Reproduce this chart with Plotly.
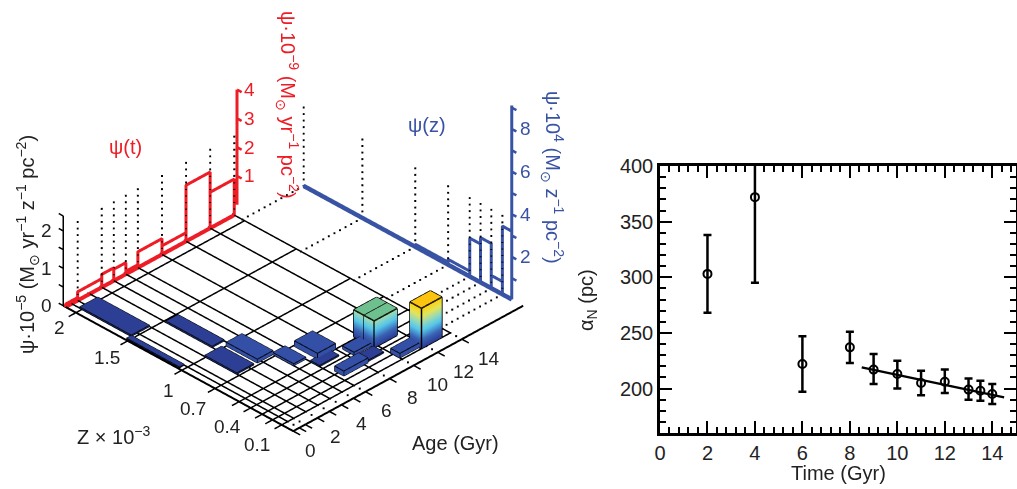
import numpy as np
import plotly.graph_objects as go

# ---------- right panel data ----------
time_gyr = [2, 4, 6, 8, 9, 10, 11, 12, 13, 13.5, 14]
alpha_n = [303, 372, 222, 237, 217, 213, 205, 206, 199, 198, 195]
alpha_hi = [338, 410, 247, 251, 231, 225, 216, 217, 209, 207, 204]
alpha_lo = [268, 295, 197, 223, 204, 200, 194, 196, 190, 189, 186]
fit_time = [8.5, 14.5]
fit_alpha = [219, 192]

# ---------- left panel data ----------
age_edges = [0, 0.5, 1, 2, 3, 4, 5, 6, 8, 10, 12, 14]
age_ticks = [0, 2, 4, 6, 8, 10, 12, 14]
z_edges = [0.05, 0.09, 0.135, 0.185, 0.235, 0.34, 0.485, 0.72, 0.945]
z_tick_pos = [0.135, 0.235, 0.34, 0.485, 0.72, 0.945]
z_tick_text = ["0.1", "0.4", "0.7", "1", "1.5", "2"]
psi_ticks = [0, 1, 2]
# bars: age range, Z position range, height
bar_age0 = [0.5, 0.1, 3.0, 2.0, 3.7, 5.0, 6.5, 6.0, 6.3, 8.3, 8.2, 10.0]
bar_age1 = [2.0, 0.5, 4.0, 3.4, 5.0, 6.0, 8.0, 7.6, 8.3, 10.0, 9.7, 12.0]
bar_z0 = [0.73, 0.50, 0.51, 0.35, 0.35, 0.26, 0.235, 0.20, 0.11, 0.17, 0.115, 0.06]
bar_z1 = [0.955, 0.73, 0.71, 0.49, 0.485, 0.35, 0.335, 0.24, 0.15, 0.22, 0.16, 0.10]
bar_h = [0.03, 0.02, 0.03, 0.03, 0.10, 0.05, 0.15, 0.03, 0.13, 0.08, 0.03, 0.12]
tall_age0 = [9.7, 9.7, 11.6]
tall_age1 = [11.6, 11.6, 13.3]
tall_z0 = [0.156, 0.20, 0.05]
tall_z1 = [0.20, 0.245, 0.10]
tall_h = [0.72, 0.72, 1.08]
tall_top = ["#6fc08f", "#6fc08f", "#fcc40f"]
# marginals
red_edges = [0, 1, 3, 4, 5, 6, 8, 10, 12, 14]
red_vals = [0.1, 0.3, 0.45, 0.4, 0.1, 0.55, 0.3, 1.95, 1.25]
blue_edges = [0.05, 0.091, 0.139, 0.186, 0.233, 0.327, 0.47, 0.70, 0.955]
blue_vals = [3.2, 0.6, 2.1, 1.8, 0.25, 0.12, 0.02, 0.02]
RED_SCALE = 0.77      # wall units per scene psi unit
BLUE_SCALE = 0.57
RED, BLUE = "#ee1c25", "#3953a4"
WALL_AGE, RED_Z, RED_AXIS_AGE, RED_AXIS_Z = 19.1, 0.99, 14.9, 1.025
POLE = 2.1

FONT = "Liberation Sans"
TXT = "#222"
fig = go.Figure()


def line3(x, y, z, color="black", width=2, dash=None):
    fig.add_trace(go.Scatter3d(x=x, y=y, z=z, mode="lines",
                               line=dict(color=color, width=width, dash=dash),
                               showlegend=False, hoverinfo="skip"))


def dots3(pairs, n):
    xs, ys, zs = [], [], []
    for a, b in pairs:
        a, b = np.array(a, float), np.array(b, float)
        for f in np.linspace(0, 1, n):
            p = a + (b - a) * f
            xs.append(p[0]); ys.append(p[1]); zs.append(p[2])
    fig.add_trace(go.Scatter3d(x=xs, y=ys, z=zs, mode="markers",
                               marker=dict(color="black", size=1, symbol="square", line=dict(width=0)),
                               showlegend=False, hoverinfo="skip"))


def segs(pairs):
    xs, ys, zs = [], [], []
    for a, b in pairs:
        xs += [a[0], b[0], None]
        ys += [a[1], b[1], None]
        zs += [a[2], b[2], None]
    return xs, ys, zs


# floor grid
pairs = [((a, z_edges[0], 0), (a, 1.0, 0)) for a in age_edges[1:]]
pairs += [((0, z, 0), (14, z, 0)) for z in z_edges]
line3(*segs(pairs), width=3)

# axis lines and ticks
line3([0, 0, 19.1], [1.0, 0, 0], [0, 0, 0], width=4)
line3(*segs([((a, 0, 0), (a, -0.03, 0)) for a in age_edges]), width=3)
line3(*segs([((0, z, 0), (-0.6, z, 0)) for z in z_edges]), width=3)
line3(*segs([((0, 1.0, v), (0, 1.02, v)) for v in [0, 0.5, 1, 1.5, 2, 2.4]]), width=3)
line3([0, 0], [1.0, 1.0], [0, 2.4], width=3)

# dotted guides
guide_pairs = [((a, RED_Z, 0), (a, RED_Z, POLE)) for a in red_edges[1:]]
guide_pairs += [((WALL_AGE, z, 0), (WALL_AGE, z, POLE)) for z in blue_edges[1:]]
dots3(guide_pairs, 13)
dots3([((14, z, 0), (WALL_AGE, z, 0)) for z in blue_edges[1:]], 12)
dots3([((a, 0.0, 0), (a, z_edges[0], 0)) for a in age_edges[1:]], 3)


def box(a0, a1, z0, z1, h, color, edge_w):
    x = [a0, a1, a1, a0, a0, a1, a1, a0]
    y = [z0, z0, z1, z1, z0, z0, z1, z1]
    zz = [0, 0, 0, 0, h, h, h, h]
    i = [0, 0, 4, 4, 0, 0, 1, 1, 2, 2, 3, 3]
    j = [1, 2, 5, 6, 1, 5, 2, 6, 3, 7, 0, 4]
    k = [2, 3, 6, 7, 5, 4, 6, 5, 7, 6, 4, 7]
    fig.add_trace(go.Mesh3d(x=x, y=y, z=zz, i=i, j=j, k=k, color=color,
                            flatshading=True, hoverinfo="skip", showscale=False,
                            lighting=dict(ambient=1, diffuse=0, specular=0, fresnel=0)))
    e = [(0, 1), (1, 2), (0, 3), (4, 5), (5, 6), (6, 7), (7, 4), (0, 4), (1, 5), (3, 7)]
    pts = list(zip(x, y, zz))
    line3(*segs([(pts[p], pts[q]) for p, q in e]), width=edge_w)


for n in range(len(bar_age0)):
    c = "#2c3f95" if bar_h[n] < 0.05 else "#3450a6"
    box(bar_age0[n], bar_age1[n], bar_z0[n], bar_z1[n], bar_h[n], c, 2)

SCALE = [[0, "#2a3c94"], [0.2, "#3a62b4"], [0.43, "#55c6ea"], [0.6, "#8fd8c0"],
         [0.8, "#e2e45c"], [1, "#fdd20a"]]
for n in range(len(tall_h)):
    a0, a1, z0, z1, h = tall_age0[n], tall_age1[n], tall_z0[n], tall_z1[n], tall_h[n]
    x = [a0, a1, a1, a0, a0, a1, a1, a0]
    y = [z0, z0, z1, z1, z0, z0, z1, z1]
    zz = [0, 0, 0, 0, h, h, h, h]
    i = [0, 0, 1, 1, 2, 2, 3, 3]
    j = [1, 5, 2, 6, 3, 7, 0, 4]
    k = [5, 4, 6, 5, 7, 6, 4, 7]
    fig.add_trace(go.Mesh3d(x=x, y=y, z=zz, i=i, j=j, k=k, intensity=zz, cmin=0, cmax=1.08,
                            colorscale=SCALE, showscale=False, hoverinfo="skip",
                            lighting=dict(ambient=1, diffuse=0, specular=0, fresnel=0)))
    fig.add_trace(go.Mesh3d(x=[a0, a1, a1, a0], y=[z0, z0, z1, z1], z=[h] * 4,
                            i=[0, 0], j=[1, 2], k=[2, 3], color=tall_top[n], hoverinfo="skip",
                            lighting=dict(ambient=1, diffuse=0, specular=0, fresnel=0)))
    e = [(0, 1), (1, 2), (2, 3), (3, 0), (4, 5), (5, 6), (6, 7), (7, 4), (0, 4), (1, 5), (3, 7), (2, 6)]
    pts = list(zip(x, y, zz))
    line3(*segs([(pts[p], pts[q]) for p, q in e]), width=3)

# red wall histogram
rx, rz = [0], [0]
for n, v in enumerate(red_vals):
    rx += [red_edges[n], red_edges[n + 1], red_edges[n + 1], red_edges[n + 1]]
    rz += [v * RED_SCALE, v * RED_SCALE, 0, 0]
line3(rx, [RED_Z] * len(rx), rz, color=RED, width=6)
line3([0, 14], [RED_Z, RED_Z], [0, 0], color=RED, width=8)
line3([RED_AXIS_AGE] * 2, [RED_AXIS_Z] * 2, [0, 4 * RED_SCALE], color=RED, width=6)
line3(*segs([((RED_AXIS_AGE, RED_AXIS_Z, v * RED_SCALE), (RED_AXIS_AGE, RED_AXIS_Z - 0.02, v * RED_SCALE))
             for v in [1, 2, 3, 4]]), color=RED, width=5)

# blue wall histogram
by, bz = [], []
for n, v in enumerate(blue_vals):
    by += [blue_edges[n], blue_edges[n], blue_edges[n + 1], blue_edges[n + 1]]
    bz += [0, v * BLUE_SCALE, v * BLUE_SCALE, 0]
line3([WALL_AGE] * len(by), by, bz, color=BLUE, width=6)
line3([WALL_AGE, WALL_AGE], [0.05, 0.955], [0, 0], color=BLUE, width=9)
line3([WALL_AGE, WALL_AGE], [0.05, 0.05], [0, 9.1 * BLUE_SCALE], color=BLUE, width=6)
line3(*segs([((WALL_AGE, 0.05, v * BLUE_SCALE), (WALL_AGE, 0.03, v * BLUE_SCALE)) for v in range(1, 10)]),
      color=BLUE, width=5)

# scene labels anchored on data
z_label_dx = [15, 8, -2, 7, -1, 4]
z_label_dy = [15, 10, 5, 5, 2, 0]
ann = []
for a in age_ticks:
    ann.append(dict(x=a, y=0, z=0, text=str(a), showarrow=False, xshift=17 + 0.7 * a, yshift=-19,
                    font=dict(family=FONT, size=19, color=TXT)))
for p, t, dx, dy in zip(z_tick_pos, z_tick_text, z_label_dx, z_label_dy):
    ann.append(dict(x=0, y=p, z=0, text=t, showarrow=False, xshift=-20 + dx, yshift=-15 - dy,
                    font=dict(family=FONT, size=19, color=TXT)))
for v in psi_ticks:
    ann.append(dict(x=0, y=1.0, z=v, text=str(v), showarrow=False, xshift=-17, yshift=0,
                    font=dict(family=FONT, size=19, color=TXT)))
for v in [1, 2, 3, 4]:
    ann.append(dict(x=RED_AXIS_AGE, y=RED_AXIS_Z, z=v * RED_SCALE, text=str(v), showarrow=False, xshift=12, yshift=0,
                    font=dict(family=FONT, size=19, color=RED)))
for v in [2, 4, 6, 8]:
    ann.append(dict(x=WALL_AGE, y=0.05, z=v * BLUE_SCALE, text=str(v), showarrow=False, xshift=14, yshift=0,
                    font=dict(family=FONT, size=19, color=BLUE)))

hide = dict(visible=False, showgrid=False, zeroline=False, showbackground=False, showspikes=False)
fig.update_layout(
    width=1017, height=489, margin=dict(l=0, r=0, t=0, b=0, autoexpand=False), showlegend=False,
    paper_bgcolor="white", plot_bgcolor="white", font=dict(family=FONT, size=19, color=TXT),
    scene=dict(
        domain=dict(x=[0, 590 / 1017], y=[0, 1]),
        xaxis=dict(range=[-1, 20], **hide), yaxis=dict(range=[-0.08, 1.06], **hide),
        zaxis=dict(range=[-2.24, 5.6], **hide),
        aspectmode="manual", aspectratio=dict(x=1.463, y=1.516, z=1.43),
        camera=dict(eye=dict(x=-1.0, y=-1.0, z=0.92), center=dict(x=0, y=0, z=0),
                    up=dict(x=0, y=0, z=1), projection=dict(type="orthographic")),
        annotations=ann, dragmode=False,
    ),
)

# right panel
fig.add_trace(go.Scatter(x=fit_time, y=fit_alpha, mode="lines", line=dict(color="black", width=2.5),
                         xaxis="x", yaxis="y", showlegend=False, hoverinfo="skip"))
fig.add_trace(go.Scatter(
    x=time_gyr, y=alpha_n, mode="markers", xaxis="x", yaxis="y", showlegend=False,
    marker=dict(symbol="circle-open", size=8, color="black", line=dict(width=2, color="black")),
    error_y=dict(type="data", symmetric=False,
                 array=[h - v for h, v in zip(alpha_hi, alpha_n)],
                 arrayminus=[v - l for l, v in zip(alpha_lo, alpha_n)],
                 color="black", thickness=2.5, width=4)))
ax = dict(showgrid=False, zeroline=False, showline=True, linecolor="black", linewidth=2.5, mirror="allticks",
          ticks="inside", ticklen=12, tickwidth=2, tickcolor="black", tickfont=dict(size=20, color=TXT))
fig.update_layout(
    xaxis=dict(domain=[660 / 1017, 1016 / 1017], range=[0, 15], tick0=0, dtick=2,
               minor=dict(ticks="inside", dtick=0.4, ticklen=6, tickwidth=2, tickcolor="black"),
               anchor="y", **ax),
    yaxis=dict(domain=[1 - 433 / 489, 1 - 166 / 489], range=[160, 400], tick0=200, dtick=50,
               minor=dict(ticks="inside", dtick=10, ticklen=6, tickwidth=2, tickcolor="black"),
               anchor="x", **ax),
)


def label(px, py, text, color=TXT, angle=0, size=20):
    fig.add_annotation(xref="paper", yref="paper", x=px / 1017, y=1 - py / 489, text=text, showarrow=False,
                       textangle=angle, font=dict(family=FONT, size=size, color=color),
                       xanchor="center", yanchor="middle")


label(125, 147, "ψ(t)", RED)
label(427, 125, "ψ(z)", BLUE)
label(287, 105, "ψ·10<sup>−9</sup> (M<sub>⊙</sub> yr<sup>−1</sup> pc<sup>−2</sup>)", RED, 90)
label(553, 177, "ψ·10<sup>4</sup> (M<sub>⊙</sub> z<sup>−1</sup> pc<sup>−2</sup>)", BLUE, 90)
label(27, 245, "ψ·10<sup>−5</sup> (M<sub>⊙</sub> yr<sup>−1</sup> z<sup>−1</sup> pc<sup>−2</sup>)", TXT, -90)
label(113, 435, "Z × 10<sup>−3</sup>")
label(455, 443, "Age (Gyr)")
label(587, 300, "α<sub>N</sub> (pc)", TXT, -90)
label(838, 473, "Time (Gyr)")

fig.write_html("out.html", post_script="document.body.style.margin='0';",
               config=dict(displayModeBar=False))
